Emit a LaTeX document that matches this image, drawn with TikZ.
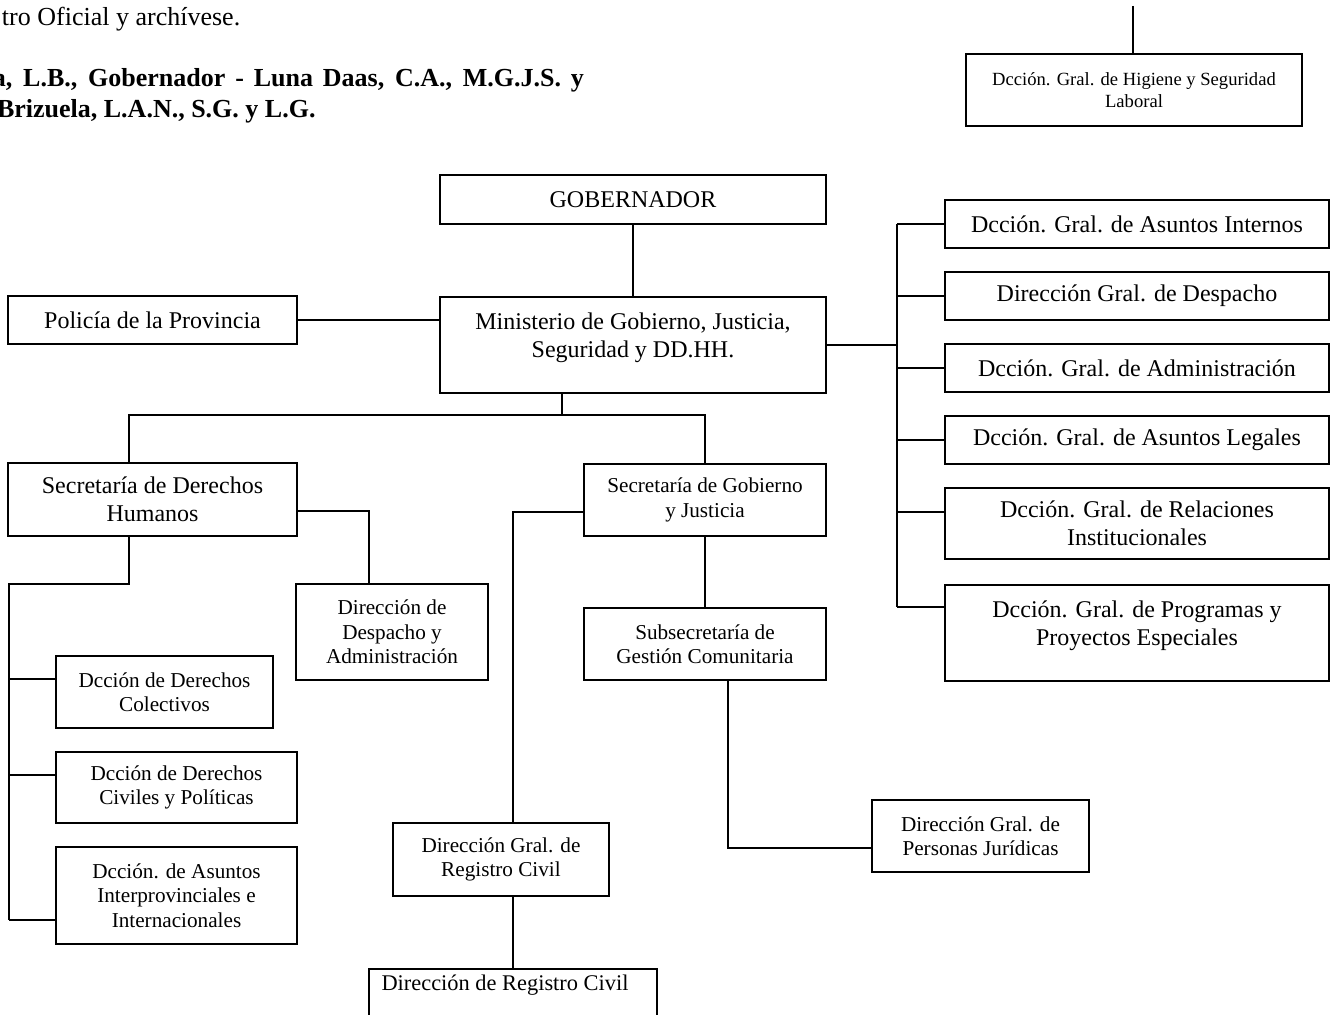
\documentclass[tikz,border=0pt]{standalone}
\usepackage{fontspec}
\setmainfont{Liberation Serif}

\begin{document}
\begin{tikzpicture}[x=0.5pt,y=-0.5pt,line width=1pt,
  box/.style={draw,rectangle,inner sep=0pt,align=center,font=\fontsize{12}{14}\selectfont},
  sbox/.style={box,font=\fontsize{10.6}{12.2}\selectfont},
  tbox/.style={box,font=\fontsize{9.3}{11}\selectfont},
  hdr/.style={inner sep=0pt,anchor=base west,font=\fontsize{13}{15}\selectfont},
  hdrb/.style={hdr,font=\bfseries\fontsize{13}{15.5}\selectfont}]
  \useasboundingbox (0,0) rectangle (1337,1015);
  % lines of the decree text, cut by the page edge
  \node[hdr] (decreto) at (1,26) {tro Oficial y archívese.};
  \node[hdrb] (firmaA) at (-8,87) {\makebox[295.5pt][s]{a, L.B., Gobernador - Luna Daas, C.A., M.G.J.S. y}};
  \node[hdrb] (firmaB) at (-4,118) {Brizuela, L.A.N., S.G. y L.G.};
  % end of the previous chart, top right
  \node[tbox,minimum width=168pt,minimum height=36pt] (higiene) at (1134,90) {Dcción. Gral. de Higiene y Seguridad\\Laboral};
  \coordinate (higtop) at (1133,6);
  \draw (higtop) -- (higtop |- higiene.north);
  % head of the chart
  \node[box,minimum width=193pt,minimum height=24.5pt] (gob) at (633,199.5) {GOBERNADOR};
  \node[box,anchor=north,minimum width=193pt,text height=30.5pt,text depth=17.5pt] (min) at (633,296) {Ministerio de Gobierno, Justicia,\\Seguridad y DD.HH.};
  \node[box,minimum width=144.5pt,minimum height=24pt] (pol) at (152.5,320) {Policía de la Provincia};
  \draw (gob) -- (min);
  \draw (pol.east) -- (pol.east -| min.west);
  % direcciones generales on the right
  \node[box,minimum width=192pt,minimum height=24pt] (dgai) at (1137,224) {Dcción. Gral. de Asuntos Internos};
  \node[box,minimum width=192pt,minimum height=24pt] (dgdes) at (1137,296) {Dirección Gral. de Despacho};
  \node[box,minimum width=192pt,minimum height=24pt] (dgadm) at (1137,368) {Dcción. Gral. de Administración};
  \node[box,minimum width=192pt,minimum height=24pt] (dgleg) at (1137,440) {Dcción. Gral. de Asuntos Legales};
  \node[box,minimum width=192pt,minimum height=35.5pt] (dgrel) at (1137,523.5) {Dcción. Gral. de Relaciones\\Institucionales};
  \node[box,anchor=north,minimum width=192pt,text height=30pt,text depth=18pt] (dgprog) at (1137,584) {Dcción. Gral. de Programas y\\Proyectos Especiales};
  \coordinate (rbus) at (897,344);
  \draw (min.east) -- (rbus |- min.east);
  \draw (rbus |- dgai.west) -- (rbus |- 0,607);
  \foreach \n in {dgai,dgdes,dgadm,dgleg}
    \draw (rbus |- \n.west) -- (\n.west);
  \draw (rbus |- 0,512) -- (dgrel.west |- 0,512);
  \draw (rbus |- 0,607) -- (dgprog.west |- 0,607);
  % secretarías
  \node[box,minimum width=144.5pt,minimum height=36.5pt] (sdh) at (152.5,499.5) {Secretaría de Derechos\\Humanos};
  \node[sbox,minimum width=121pt,minimum height=36pt] (sgj) at (705,500) {Secretaría de Gobierno\\y Justicia};
  \coordinate (mbus) at (562,415);
  \draw (mbus |- min.south) -- (mbus);
  \draw (129,0 |- sdh.north) |- (mbus) -| (sgj.north);
  % Derechos Humanos branch
  \node[sbox,minimum width=96pt,minimum height=48pt] (dda) at (392,632) {Dirección de\\Despacho y\\Administración};
  \node[sbox,minimum width=108.5pt,minimum height=36pt] (ddc) at (164.5,692) {Dcción de Derechos\\Colectivos};
  \node[sbox,minimum width=120.5pt,minimum height=35.5pt] (ddcp) at (176.5,787.5) {Dcción de Derechos\\Civiles y Políticas};
  \node[sbox,minimum width=120.5pt,minimum height=48.5pt] (dai) at (176.5,895.5) {Dcción. de Asuntos\\Interprovinciales e\\Internacionales};
  \draw (sdh.east |- 0,511) -| (369,0 |- dda.north);
  \coordinate (lbus) at (9,584);
  \draw (129,0 |- sdh.south) |- (lbus) -- (lbus |- 0,920);
  \draw (lbus |- 0,679) -- (ddc.west |- 0,679);
  \draw (lbus |- 0,775) -- (ddcp.west |- 0,775);
  \draw (lbus |- 0,920) -- (dai.west |- 0,920);
  % Gobierno y Justicia branch
  \node[sbox,minimum width=121pt,minimum height=36pt] (sgc) at (705,644) {Subsecretaría de\\Gestión Comunitaria};
  \node[sbox,minimum width=108pt,minimum height=36.5pt] (dgrc) at (501,859.5) {Dirección Gral. de\\Registro Civil};
  \node[sbox,anchor=north,minimum width=144pt,font=\fontsize{11.2}{13}\selectfont,text height=10.5pt,text depth=30pt] (drc) at (513,968) {Dirección de Registro Civil\hspace*{8pt}};
  \node[sbox,minimum width=108.5pt,minimum height=36pt] (dgpj) at (980.5,836) {Dirección Gral. de\\Personas Jurídicas};
  \draw (sgj) -- (sgc);
  \draw (sgj.west |- 0,512) -| (513,0 |- dgrc.north);
  \draw (513,0 |- dgrc.south) -- (drc.north);
  \draw (728,0 |- sgc.south) |- (dgpj.west |- 0,848);
\end{tikzpicture}
\end{document}
